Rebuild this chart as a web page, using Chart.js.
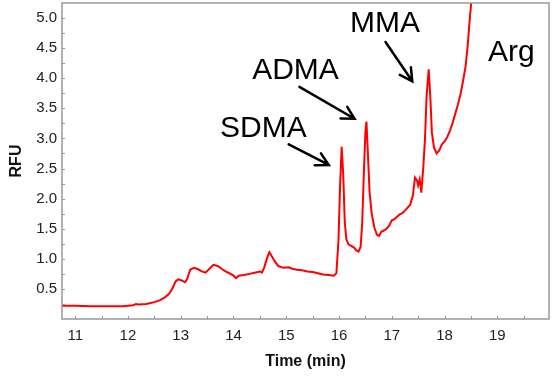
<!DOCTYPE html>
<html>
<head>
<meta charset="utf-8">
<script src="https://cdn.jsdelivr.net/npm/chart.js@4.4.1/dist/chart.umd.min.js"></script>
<style>
  html, body { margin: 0; padding: 0; background: #fff; }
  #wrap { width: 557px; height: 376px; }
</style>
</head>
<body>
<div id="wrap"><canvas id="chrom"></canvas></div>
<script>
// ═══════════ DATA ═══════════
const times = [10.75, 11.0, 11.3, 11.6, 11.9, 12.0, 12.1, 12.15, 12.2, 12.35, 12.5, 12.6, 12.7, 12.78, 12.85, 12.9, 12.95,
    13.02, 13.08, 13.12, 13.18, 13.25, 13.32, 13.4, 13.47, 13.55, 13.62, 13.7, 13.78, 13.85, 13.92, 14.0, 14.05, 14.1,
    14.2, 14.3, 14.4, 14.5, 14.54, 14.58, 14.64, 14.68, 14.72, 14.78, 14.85, 14.95, 15.05, 15.1, 15.2, 15.3, 15.4, 15.5,
    15.6, 15.7, 15.8, 15.9, 15.95, 15.99, 16.02, 16.05, 16.08, 16.11, 16.14, 16.18, 16.22, 16.28, 16.33, 16.37, 16.41,
    16.44, 16.47, 16.5, 16.52, 16.55, 16.58, 16.62, 16.67, 16.72, 16.76, 16.8, 16.85, 16.9, 16.95, 17.0, 17.05, 17.1,
    17.15, 17.2, 17.25, 17.3, 17.35, 17.4, 17.44, 17.48, 17.5, 17.53, 17.56, 17.6, 17.63, 17.66, 17.7, 17.73, 17.76,
    17.8, 17.85, 17.9, 17.95, 18.0, 18.05, 18.1, 18.15, 18.2, 18.25, 18.3, 18.35, 18.4, 18.44, 18.47, 18.5, 18.53];
const rfu = [0.22, 0.22, 0.21, 0.21, 0.21, 0.22, 0.23, 0.25, 0.24, 0.25, 0.28, 0.31, 0.36, 0.42, 0.52, 0.62, 0.66,
    0.64, 0.61, 0.66, 0.82, 0.85, 0.83, 0.79, 0.77, 0.84, 0.90, 0.88, 0.83, 0.79, 0.76, 0.72, 0.68, 0.72,
    0.73, 0.75, 0.77, 0.79, 0.77, 0.85, 1.02, 1.11, 1.05, 0.96, 0.88, 0.85, 0.86, 0.84, 0.82, 0.81, 0.79, 0.78,
    0.76, 0.74, 0.73, 0.72, 0.76, 1.30, 2.20, 2.86, 2.40, 1.60, 1.32, 1.24, 1.22, 1.19, 1.14, 1.12, 1.20,
    1.60, 2.40, 3.10, 3.28, 2.70, 2.10, 1.75, 1.52, 1.40, 1.38, 1.45, 1.47, 1.50, 1.55, 1.64, 1.66, 1.70,
    1.74, 1.76, 1.80, 1.85, 1.90, 2.05, 2.35, 2.30, 2.22, 2.32, 2.10, 2.55, 3.00, 3.70, 4.15, 3.70, 3.10,
    2.85, 2.75, 2.80, 2.90, 2.95, 3.02, 3.12, 3.25, 3.40, 3.55, 3.72, 3.95, 4.20, 4.55, 4.90, 5.20, 5.60];

const xTicks = [11, 12, 13, 14, 15, 16, 17, 18, 19];
const yTicks = [0.5, 1.0, 1.5, 2.0, 2.5, 3.0, 3.5, 4.0, 4.5, 5.0];

// peak labels and arrows, in data units (time, RFU)
const peakLabels = [
    {text: 'SDMA', t: 14.567, v: 3.02},
    {text: 'ADMA', t: 15.175, v: 3.995},
    {text: 'MMA', t: 16.873, v: 4.773},
    {text: 'Arg', t: 19.264, v: 4.281},
];
const peakArrows = [
    {t0: 15.047, v0: 2.902, t1: 15.806, v1: 2.559},
    {t0: 15.25, v0: 3.857, t1: 16.294, v1: 3.327},
    {t0: 16.882, v0: 4.603, t1: 17.389, v1: 3.95},
];

const FONT = "'Liberation Sans', Arial, sans-serif";

// frame, inward tick marks, labels and arrows
const decor = {
    id: 'decor',
    afterDatasetsDraw(chart) {
        const {ctx, chartArea: a, scales: {x, y}} = chart;
        ctx.save();
        ctx.strokeStyle = '#9a9a9a';
        ctx.lineWidth = 1;
        for (let t = 11; t <= 19.5; t += 0.5) {
            const px = Math.round(x.getPixelForValue(t)) + 0.5;
            ctx.beginPath(); ctx.moveTo(px, a.bottom); ctx.lineTo(px, a.bottom - 3); ctx.stroke();
        }
        for (let v = 0.25; v <= 5.1; v += 0.25) {
            const py = Math.round(y.getPixelForValue(v)) + 0.5;
            ctx.beginPath(); ctx.moveTo(a.left, py); ctx.lineTo(a.left + 3, py); ctx.stroke();
        }
        ctx.lineWidth = 1.5;
        ctx.strokeStyle = '#999';
        ctx.strokeRect(a.left, a.top, a.right - a.left, a.bottom - a.top);

        ctx.fillStyle = '#000';
        ctx.font = '30px ' + FONT;
        ctx.textAlign = 'center';
        ctx.textBaseline = 'alphabetic';
        peakLabels.forEach(l => ctx.fillText(l.text, x.getPixelForValue(l.t), y.getPixelForValue(l.v)));

        ctx.strokeStyle = '#000';
        ctx.lineWidth = 2.5;
        ctx.lineCap = 'round';
        peakArrows.forEach(p => {
            const x0 = x.getPixelForValue(p.t0), y0 = y.getPixelForValue(p.v0);
            const x1 = x.getPixelForValue(p.t1), y1 = y.getPixelForValue(p.v1);
            const ang = Math.atan2(y1 - y0, x1 - x0), h = 14, spread = 0.5;
            ctx.beginPath();
            ctx.moveTo(x0, y0); ctx.lineTo(x1, y1);
            ctx.moveTo(x1 - h * Math.cos(ang - spread), y1 - h * Math.sin(ang - spread));
            ctx.lineTo(x1, y1);
            ctx.lineTo(x1 - h * Math.cos(ang + spread), y1 - h * Math.sin(ang + spread));
            ctx.stroke();
        });
        ctx.restore();
    }
};

new Chart(document.getElementById('chrom'), {
    type: 'line',
    data: {
        datasets: [{
            data: times.map((t, i) => ({x: t, y: rfu[i]})),
            borderColor: '#ff0000',
            borderWidth: 2,
            pointRadius: 0,
            tension: 0,
            fill: false,
        }]
    },
    options: {
        responsive: true,
        maintainAspectRatio: false,
        animation: false,
        layout: {padding: {top: 3, right: 8, left: 0, bottom: 0}},
        plugins: {legend: {display: false}, tooltip: {enabled: false}},
        scales: {
            x: {
                type: 'linear',
                min: 10.75,
                max: 19.98,
                afterBuildTicks: s => { s.ticks = xTicks.map(v => ({value: v})); },
                afterFit: s => { s.height = 57; s.paddingLeft = 0; s.paddingRight = 0; },
                grid: {display: false, drawTicks: false},
                border: {display: false},
                ticks: {padding: 8, color: '#222', font: {family: FONT, size: 15}, maxRotation: 0},
                title: {display: true, text: 'Time (min)', color: '#111', padding: {top: 0, bottom: 5},
                    font: {family: FONT, size: 16, weight: 'bold'}}
            },
            y: {
                min: 0,
                max: 5.25,
                afterBuildTicks: s => { s.ticks = yTicks.map(v => ({value: v})); },
                afterFit: s => { s.width = 62; s.paddingTop = 0; s.paddingBottom = 0; },
                grid: {display: false, drawTicks: false},
                border: {display: false},
                ticks: {padding: 5, color: '#222', font: {family: FONT, size: 15}, callback: v => v.toFixed(1)},
                title: {display: true, text: 'RFU', color: '#111', padding: {top: 7, bottom: 0},
                    font: {family: FONT, size: 16, weight: 'bold'}}
            }
        }
    },
    plugins: [decor]
});
</script>
</body>
</html>
